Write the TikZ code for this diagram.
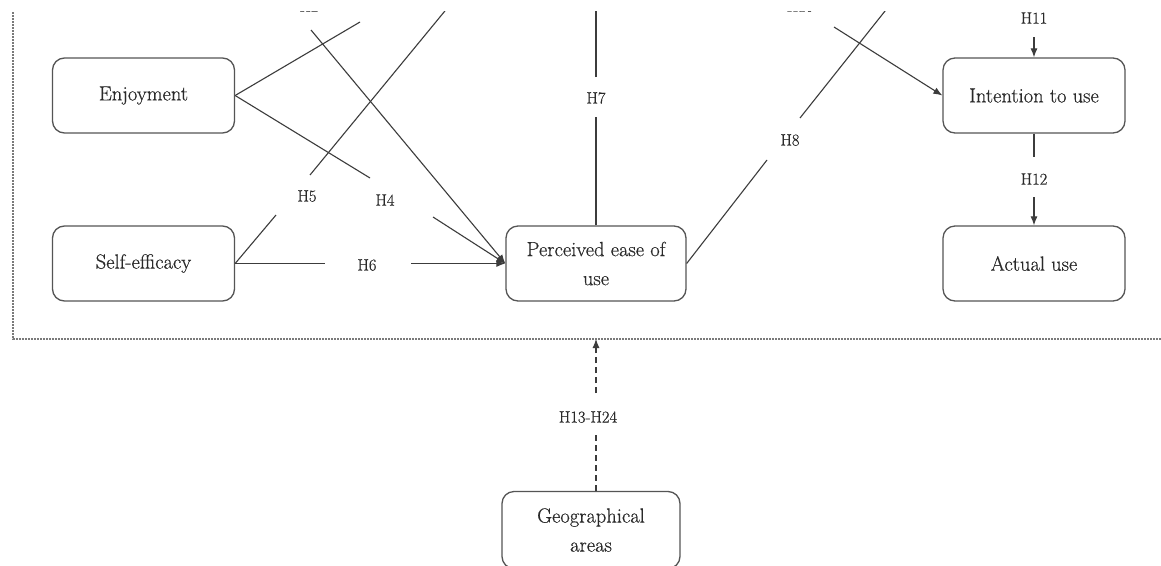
\documentclass[tikz,border=0pt]{standalone}
\usepackage{fontspec}
\setmainfont{Latin Modern Roman}[FakeBold=0.5]
\usetikzlibrary{arrows.meta}
\definecolor{ln}{HTML}{3C3C3C}
\definecolor{bx}{HTML}{555555}
\definecolor{tx}{HTML}{2A2A2A}
\definecolor{dt}{HTML}{7A7A7A}
\begin{document}
\begin{tikzpicture}[x=1pt,y=-1pt,
  box/.style={draw=bx,line width=1.3pt,rounded corners=12pt,minimum width=182pt,minimum height=75pt,
    align=center,text=tx,font=\fontsize{20.5}{29}\selectfont,inner sep=0pt},
  hlab/.style={text=tx,font=\fontsize{16.5}{20}\selectfont,inner sep=1pt},
  conn/.style={draw=ln,line width=1.1pt},
  arr/.style={conn,-{Latex[length=9pt,width=7pt]}},
  frame/.style={draw=dt,line width=2.2pt,dash pattern=on 1.6pt off 1.4pt},
  dsh/.style={conn,dash pattern=on 6pt off 4pt}]
\useasboundingbox (0,0) rectangle (1161,565);
\fill[white] (0,0) rectangle (1161,565);
\begin{scope}
\clip (0,11) rectangle (1161,565);
% nodes
\node[box] (enj) at (143.5,95.5) {Enjoyment};
\node[box] (se) at (143.5,263.5) {Self-efficacy};
\node[box,minimum width=180pt] (pe) at (596,263.5) {Perceived ease of\\use};
\node[box] (itu) at (1034,95.5) {Intention to use};
\node[box] (au) at (1034,263.5) {Actual use};
\node[box,minimum width=178pt,minimum height=77pt] (geo) at (591,530) {Geographical\\areas};
% coordinates
\coordinate (t1) at (360,22);
\coordinate (h2s) at (311,30);
\coordinate (t5) at (449,6);
\coordinate (h5a) at (276,215);
\coordinate (h5b) at (310,175);
\coordinate (h4a) at (370,178);
\coordinate (h4b) at (433,217);
\coordinate (h6a) at (325,263.5);
\coordinate (h6b) at (411,263.5);
\coordinate (h7a) at (596,117);
\coordinate (h7b) at (596,77);
\coordinate (t7) at (596,0);
\coordinate (h8a) at (767,160);
\coordinate (h8b) at (800,118);
\coordinate (t8) at (889,6);
\coordinate (h10s) at (834,27);
\coordinate (h11s) at (1034,37);
\coordinate (h12a) at (1034,157);
\coordinate (h12b) at (1034,197);
\coordinate (h13a) at (596,432);
\coordinate (h13b) at (596,393);
\coordinate (fa) at (13,0);
\coordinate (fb) at (13,339);
\coordinate (fc) at (1170,339);
% frame
\draw[frame] (fa) -- (fb) -- (fc);
% connectors
\draw[conn] (enj.east) -- (t1);
\draw[arr] (h2s) -- (pe.west);
\draw[conn] (enj.east) -- (h4a);
\draw[arr] (h4b) -- (pe.west);
\draw[conn] (se.east) -- (h5a);
\draw[conn] (h5b) -- (t5);
\draw[conn] (se.east) -- (h6a);
\draw[arr] (h6b) -- (pe.west);
\draw[conn] (pe.north) -- (h7a);
\draw[conn] (h7b) -- (t7);
\draw[conn] (pe.east) -- (h8a);
\draw[conn] (h8b) -- (t8);
\draw[arr] (h10s) -- (itu.west);
\draw[arr] (h11s) -- (itu.north);
\draw[conn] (itu.south) -- (h12a);
\draw[arr] (h12b) -- (au.north);
\draw[dsh] (geo.north -| h13a) -- (h13a);
\draw[dsh,-{Latex[length=9pt,width=7pt]}] (h13b) -- (fb -| h13b);
% labels
\node[hlab] (l2) at (309,6) {H2};
\node[hlab] (l10) at (800,6) {H10};
\node[hlab] (l4) at (385,200) {H4};
\node[hlab] (l5) at (307,196) {H5};
\node[hlab] (l6) at (367,265) {H6};
\node[hlab] (l7) at (596,98) {H7};
\node[hlab] (l8) at (790,140) {H8};
\node[hlab] (l11) at (1034,18) {H11};
\node[hlab] (l12) at (1034,179) {H12};
\node[hlab] (l13) at (588,417) {H13-H24};
\end{scope}
\end{tikzpicture}
\end{document}
